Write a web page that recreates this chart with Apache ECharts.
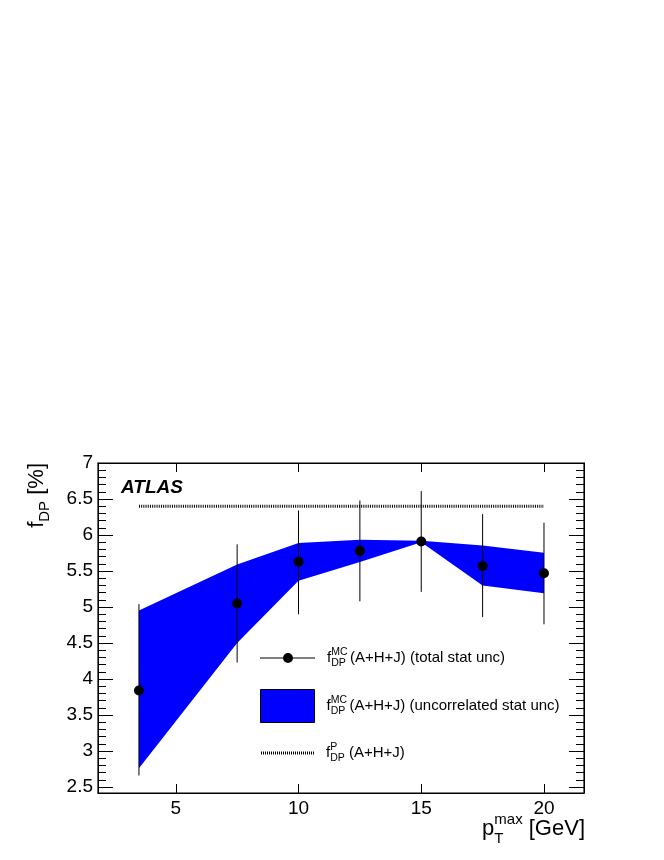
<!DOCTYPE html>
<html><head><meta charset="utf-8">
<script src="https://cdn.jsdelivr.net/npm/echarts@6/dist/echarts.min.js"></script>
<style>html,body{margin:0;padding:0;background:#fff}#c{width:664px;height:860px}</style>
</head><body><div id="c"></div>
<script>
// ---- data ----
const ptMax = [3.5, 7.5, 10, 12.5, 15, 17.5, 20];
const fMC = [3.84, 5.05, 5.63, 5.78, 5.91, 5.57, 5.47];
const totLo = [2.66, 4.23, 4.90, 5.08, 5.21, 4.86, 4.76];
const totHi = [5.04, 5.87, 6.34, 6.48, 6.61, 6.29, 6.17];
const uncLo = [2.76, 4.50, 5.365, 5.625, 5.90, 5.30, 5.19];
const uncHi = [4.95, 5.59, 5.89, 5.935, 5.92, 5.855, 5.755];
const fPx = [3.5, 20];
const fPy = [6.40, 6.40];
const xTicks = [5, 10, 15, 20];
const yTicks = [2.5, 3, 3.5, 4, 4.5, 5, 5.5, 6, 6.5, 7];
const yMinor = [];
for (let k = 25; k <= 70; k++) { if (k % 5 !== 0) yMinor.push(k / 10); }

const FF = '"Liberation Sans", Arial, Helvetica, sans-serif';
const X_MIN = 1.832, X_MAX = 21.63, Y_MIN = 2.417, Y_MAX = 7.0;

const chart = echarts.init(document.getElementById('c'), null, {renderer: 'canvas'});

function xAx(pos, labels) {
  return {
    type: 'value', position: pos, min: X_MIN, max: X_MAX, gridIndex: 0,
    axisLine: {show: true, onZero: false, lineStyle: {color: '#000', width: 1}},
    axisTick: {show: true, inside: true, length: 9, customValues: xTicks, lineStyle: {color: '#000', width: 1}},
    axisLabel: labels ? {show: true, customValues: xTicks, fontSize: 19, color: '#000', fontFamily: FF, margin: 6} : {show: false},
    splitLine: {show: false}
  };
}
function yAx(pos, major, labels) {
  return {
    type: 'value', position: pos, min: Y_MIN, max: Y_MAX, gridIndex: 0,
    axisLine: {show: major, onZero: false, lineStyle: {color: '#000', width: 1}},
    axisTick: {show: true, inside: true, length: major ? 15 : 8, customValues: major ? yTicks : yMinor, lineStyle: {color: '#000', width: 1}},
    axisLabel: labels ? {show: true, customValues: yTicks, fontSize: 19, color: '#000', fontFamily: FF, margin: 5} : {show: false},
    splitLine: {show: false}
  };
}

const legRich = {
  f: {fontSize: 15, fontFamily: FF, color: '#000', padding: [0, 0, 0, 7], lineHeight: 22, align: 'left'},
  sup: {fontSize: 10.5, fontFamily: FF, color: '#000', verticalAlign: 'top', width: 0.1, align: 'left'},
  sub: {fontSize: 10.5, fontFamily: FF, color: '#000', verticalAlign: 'bottom', align: 'left'},
  t: {fontSize: 15, fontFamily: FF, color: '#000', align: 'left'}
};
function legendText(name) {
  if (name === 'total') return '{f|f}{sup|MC}{sub|DP}{t| (A+H+J) (total stat unc)}';
  if (name === 'unc') return '{f|f}{sup|MC}{sub|DP}{t| (A+H+J) (uncorrelated stat unc)}';
  return '{f|f}{sup|P}{sub|DP}{t| (A+H+J)}';
}
// dotted legend key: short vertical dashes
let dotPath = 'path://';
for (let i = 0; i < 27; i++) dotPath += 'M' + (2 * i) + ',0 h1 v3 h-1 Z ';

const option = {
  animation: false,
  backgroundColor: '#fff',
  grid: {left: 98, right: 80, top: 463, bottom: 67, show: false, containLabel: false},
  xAxis: [xAx('bottom', true), xAx('top', false)],
  yAxis: [yAx('left', true, true), yAx('left', false, false), yAx('right', true, false), yAx('right', false, false)],
  legend: [
    {data: ['total'], left: 260, top: 647, padding: 0, itemWidth: 55, itemHeight: 10, selectedMode: false,
     icon: 'path://M0,4.5 L55,4.5 L55,5.5 L0,5.5 Z M33,5 A5,5 0 1 1 23,5 A5,5 0 1 1 33,5 Z',
     itemStyle: {color: '#000', opacity: 1},
     formatter: legendText, textStyle: {rich: legRich}},
    {data: ['unc'], left: 260, top: 689, padding: 0, itemWidth: 54, itemHeight: 33, selectedMode: false, icon: 'rect',
     itemStyle: {borderColor: '#000', borderWidth: 1},
     formatter: legendText, textStyle: {rich: legRich}},
    {data: ['fP'], left: 261, top: 742, padding: 0, itemWidth: 53, itemHeight: 3, selectedMode: false,
     icon: dotPath, itemStyle: {color: '#000', opacity: 1},
     formatter: legendText, textStyle: {rich: legRich}}
  ],
  series: [
    {
      name: 'unc', type: 'custom', xAxisIndex: 0, yAxisIndex: 0, z: 1,
      itemStyle: {color: '#0000ff'},
      data: ptMax.map((x, i) => [x, uncLo[i], uncHi[i]]),
      encode: {x: 0, y: [1, 2]},
      renderItem: function (params, api) {
        if (params.dataIndex !== 0) return null;
        const pts = [];
        for (let i = 0; i < ptMax.length; i++) pts.push(api.coord([ptMax[i], uncHi[i]]));
        for (let i = ptMax.length - 1; i >= 0; i--) pts.push(api.coord([ptMax[i], uncLo[i]]));
        return {type: 'polygon', shape: {points: pts}, style: {fill: '#0000ff', stroke: null}};
      }
    },
    {
      name: 'fP', type: 'line', xAxisIndex: 0, yAxisIndex: 0, z: 2,
      data: fPx.map((x, i) => [x, fPy[i]]),
      symbol: 'none', color: '#000',
      lineStyle: {color: '#000', width: 3, type: [1, 1.2]}
    },
    {
      name: 'totalErr', type: 'custom', xAxisIndex: 0, yAxisIndex: 0, z: 3,
      data: ptMax.map((x, i) => [x, totLo[i], totHi[i]]),
      encode: {x: 0, y: [1, 2]},
      renderItem: function (params, api) {
        const x = api.value(0);
        const p1 = api.coord([x, api.value(1)]);
        const p2 = api.coord([x, api.value(2)]);
        return {type: 'line', shape: {x1: p1[0], y1: p1[1], x2: p2[0], y2: p2[1]}, style: {stroke: '#000', lineWidth: 1}};
      }
    },
    {
      name: 'total', type: 'scatter', xAxisIndex: 0, yAxisIndex: 0, z: 4,
      data: ptMax.map((x, i) => [x, fMC[i]]),
      symbol: 'circle', symbolSize: 10, itemStyle: {color: '#000', opacity: 1}
    }
  ],
  graphic: [
    {type: 'rect', shape: {x: 98, y: 463, width: 486, height: 330}, style: {fill: null, stroke: '#000', lineWidth: 1.2}, silent: true, z: 10},
    {type: 'text', x: 121, y: 488, z: 10, style: {text: 'ATLAS', fontSize: 19, fontWeight: 'bold', fontStyle: 'italic', fontFamily: FF, fill: '#000', verticalAlign: 'middle', align: 'left'}},
    {type: 'text', x: 585, y: 829, z: 10, style: {
      text: '{p|p}{sub|T}{sup|max}{t| [GeV]}', align: 'right', verticalAlign: 'middle',
      rich: {
        p: {fontSize: 22, fontFamily: FF, fill: '#000', lineHeight: 34, align: 'left'},
        sub: {fontSize: 15, fontFamily: FF, fill: '#000', verticalAlign: 'bottom', width: 0.1, align: 'left'},
        sup: {fontSize: 15, fontFamily: FF, fill: '#000', verticalAlign: 'top', align: 'left'},
        t: {fontSize: 22, fontFamily: FF, fill: '#000', align: 'left'}
      }}},
    {type: 'text', x: 37, y: 463, rotation: Math.PI / 2, z: 10, style: {
      text: '{f|f}{sub|DP}{t| [%]}', align: 'right', verticalAlign: 'middle',
      rich: {
        f: {fontSize: 22, fontFamily: FF, fill: '#000', lineHeight: 30, align: 'left'},
        sub: {fontSize: 15, fontFamily: FF, fill: '#000', verticalAlign: 'bottom', align: 'left'},
        t: {fontSize: 22, fontFamily: FF, fill: '#000', align: 'left'}
      }}}
  ]
};
chart.setOption(option);
</script></body></html>
